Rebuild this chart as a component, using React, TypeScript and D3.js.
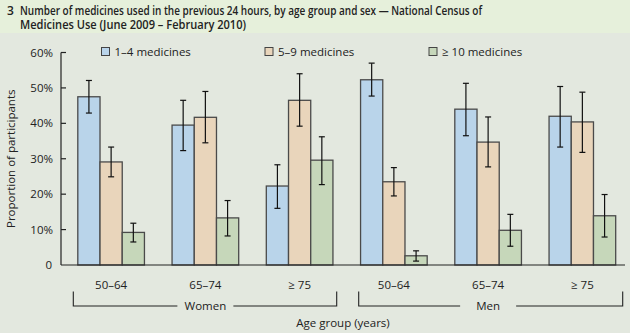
import React from "react";
import * as d3 from "d3";

const groups = ["W50", "W65", "W75", "M50", "M65", "M75"];
const groupLabels = ["50–64", "65–74", "≥ 75", "50–64", "65–74", "≥ 75"];
const seriesNames = ["1–4 medicines", "5–9 medicines", "≥ 10 medicines"];
const seriesColors = ["#b9d4ea", "#e9d5bb", "#c6d7ba"];
const values1to4 = [47.5, 39.5, 22.3, 52.3, 44.0, 42.0];
const low1to4 = [42.9, 32.3, 16.0, 47.7, 36.5, 33.3];
const high1to4 = [52.1, 46.5, 28.3, 57.0, 51.3, 50.4];
const values5to9 = [29.1, 41.7, 46.5, 23.5, 34.7, 40.4];
const low5to9 = [24.9, 34.5, 39.2, 19.5, 27.7, 31.8];
const high5to9 = [33.3, 49.0, 54.0, 27.5, 41.8, 48.8];
const values10 = [9.2, 13.3, 29.6, 2.6, 9.8, 13.9];
const low10 = [6.5, 8.2, 22.7, 1.1, 5.3, 7.9];
const high10 = [11.8, 18.2, 36.2, 4.0, 14.3, 19.9];
const yTicks = [0, 10, 20, 30, 40, 50, 60];
const sexLabels = ["Women", "Men"];

const seriesValues = [values1to4, values5to9, values10];
const seriesLow = [low1to4, low5to9, low10];
const seriesHigh = [high1to4, high5to9, high10];

export default function App() {
  const W = 630, H = 333;
  const font = "'Open Sans', 'DejaVu Sans', sans-serif";
  const axisX = 61, axisRight = 625;
  const y = d3.scaleLinear().domain([0, 60]).range([265, 52.5]);
  const x0 = d3.scaleBand<string>().domain(groups).range([64, 629.5]).paddingInner(0.293).paddingOuter(0.1465);
  const x1 = d3.scaleBand<string>().domain(["0", "1", "2"]).range([0, x0.bandwidth()]);
  const bw = x1.bandwidth();

  const brackets = [
    { label: sexLabels[0], x1: 73.3, x2: 336.7, gs: [0, 1, 2] },
    { label: sexLabels[1], x1: 358.7, x2: 622.7, gs: [3, 4, 5] },
  ];

  return (
    <svg width={W} height={H} style={{ position: "absolute", left: 0, top: 0 }} fontFamily={font}>
      <rect x={0} y={0} width={W} height={H} fill="#e3e8df" />
      <rect x={0} y={0} width={W} height={33} fill="#e6f0db" />
      <text x={7} y={15} fontSize={12} fontWeight={600} fill="#222">3</text>
      <text x={20} y={15} fontSize={12} fontWeight={600} fill="#222" textLength={462} lengthAdjust="spacingAndGlyphs">
        Number of medicines used in the previous 24 hours, by age group and sex — National Census of
      </text>
      <text x={20} y={28.5} fontSize={12} fontWeight={600} fill="#222" textLength={226} lengthAdjust="spacingAndGlyphs">
        Medicines Use (June 2009 – February 2010)
      </text>

      {/* legend */}
      {seriesNames.map((s, i) => {
        const lx = [101.5, 265, 429][i];
        return (
          <g key={s}>
            <rect x={lx} y={47.5} width={8} height={8} fill={seriesColors[i]} stroke="#444" strokeWidth={1} />
            <text x={lx + 13} y={55.5} fontSize={11.5} fill="#222">{s}</text>
          </g>
        );
      })}

      {/* bars */}
      {groups.map((g, gi) => (
        <g key={g} transform={`translate(${x0(g)},0)`}>
          {seriesValues.map((vals, si) => {
            const bx = x1(String(si))!;
            const cx = bx + bw / 2;
            return (
              <g key={si}>
                <rect x={bx} y={y(vals[gi])} width={bw} height={y(0) - y(vals[gi])}
                  fill={seriesColors[si]} stroke="#4a4a4a" strokeWidth={1.3} />
                <line x1={cx} x2={cx} y1={y(seriesHigh[si][gi])} y2={y(seriesLow[si][gi])} stroke="#111" strokeWidth={1.2} />
                <line x1={cx - 3} x2={cx + 3} y1={y(seriesHigh[si][gi])} y2={y(seriesHigh[si][gi])} stroke="#111" strokeWidth={1.2} />
                <line x1={cx - 3} x2={cx + 3} y1={y(seriesLow[si][gi])} y2={y(seriesLow[si][gi])} stroke="#111" strokeWidth={1.2} />
              </g>
            );
          })}
          <text x={x0.bandwidth() / 2} y={289} fontSize={11.5} textAnchor="middle" fill="#222">{groupLabels[gi]}</text>
        </g>
      ))}

      {/* axes */}
      <line x1={axisX} x2={axisX} y1={y(60)} y2={y(0)} stroke="#222" strokeWidth={1.2} />
      <line x1={axisX} x2={axisRight} y1={y(0)} y2={y(0)} stroke="#222" strokeWidth={1.2} />
      {yTicks.map((t) => (
        <g key={t}>
          {t > 0 && <line x1={axisX} x2={axisX + 5} y1={y(t)} y2={y(t)} stroke="#222" strokeWidth={1.2} />}
          <text x={t === 0 ? 52 : 53} y={y(t) + 4} fontSize={11.5} textAnchor="end" fill="#222">
            {t === 0 ? "0" : `${t}%`}
          </text>
        </g>
      ))}
      <text transform={`translate(15,${y(30)}) rotate(-90)`} fontSize={11.5} textAnchor="middle" fill="#222">
        Proportion of participants
      </text>

      {/* brackets */}
      {brackets.map((b) => {
        const cx = (x0(groups[b.gs[1]])! + x0.bandwidth() / 2);
        return (
          <g key={b.label}>
            <path d={`M${b.x1},291.5 V306 H${cx - 28}`} fill="none" stroke="#222" strokeWidth={1.1} />
            <path d={`M${b.x2},291.5 V306 H${cx + 28}`} fill="none" stroke="#222" strokeWidth={1.1} />
            <text x={cx} y={310} fontSize={11.5} textAnchor="middle" fill="#222">{b.label}</text>
          </g>
        );
      })}
      <text x={343} y={326.5} fontSize={11.5} textAnchor="middle" fill="#222">Age group (years)</text>
    </svg>
  );
}
